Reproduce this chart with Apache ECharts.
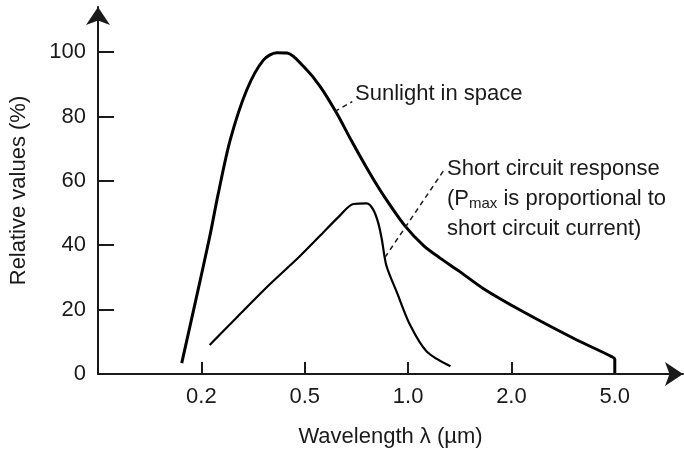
<!DOCTYPE html>
<html>
<head>
<meta charset="utf-8">
<script src="https://cdn.jsdelivr.net/npm/echarts@6/dist/echarts.min.js"></script>
<style>
  html, body { margin: 0; padding: 0; background: #fff; }
  #chart { width: 684px; height: 453px; }
</style>
</head>
<body>
<div id="chart"></div>
<script>
// x positions are tick slots: 1 = 0.2 um, 2 = 0.5, 3 = 1.0, 4 = 2.0, 5 = 5.0
const xTickPos = [1, 2, 3, 4, 5]
const xTickLabels = ['0.2', '0.5', '1.0', '2.0', '5.0']
const yTicks = [0, 20, 40, 60, 80, 100]

const sunlight = [
  [0.81, 3.4], [0.95, 23.5], [1.08, 42.5], [1.16, 55.5], [1.28, 72.8],
  [1.44, 88.3], [1.6, 97.5], [1.73, 99.8], [1.83, 99.7], [1.99, 95.5],
  [2.15, 89.3], [2.31, 81.0], [2.45, 72.6], [2.62, 62.9], [2.76, 55.6],
  [2.97, 46.0], [3.15, 39.9], [3.31, 36.0], [3.5, 31.8], [3.73, 26.5],
  [4.11, 19.4], [4.6, 11.1], [4.97, 5.4], [5.0, 4.6], [5.0, 0.3]
]

const shortCircuit = [
  [1.08, 9.0], [1.34, 17.5], [1.66, 27.8], [1.95, 36.5], [2.15, 43],
  [2.34, 49.2], [2.47, 52.8], [2.6, 53.0], [2.66, 51.2], [2.71, 47.1],
  [2.745, 42], [2.79, 33.7], [2.89, 25.5], [3.02, 15.2], [3.18, 7.0],
  [3.41, 2.4]
]

// dashed leader lines, in data coordinates
const sunLeader = [[2.29, 81.5], [2.46, 84.6]]
const scLeader = [[3.34, 63], [2.78, 36.4]]

const font = 'Liberation Sans, Arial, Helvetica, sans-serif'
const ink = '#1a1a1a'

const myChart = echarts.init(document.getElementById('chart'))

const option = {
  animation: false,
  grid: { left: 98, right: 1, top: 7, bottom: 77 },
  xAxis: {
    type: 'value',
    min: 0,
    max: 5.66,
    name: 'Wavelength λ (µm)',
    nameLocation: 'middle',
    nameGap: 52,
    nameTextStyle: { color: ink, fontSize: 22, fontFamily: font },
    splitLine: { show: false },
    axisLine: {
      show: true,
      lineStyle: { color: ink, width: 2 },
      symbol: ['none', 'arrow'],
      symbolSize: [18, 18]
    },
    axisTick: {
      show: true,
      inside: true,
      length: 12,
      customValues: xTickPos,
      lineStyle: { color: ink, width: 2 }
    },
    axisLabel: {
      customValues: xTickPos,
      margin: 12,
      color: ink,
      fontSize: 22,
      fontFamily: font,
      formatter: v => xTickLabels[xTickPos.indexOf(v)]
    }
  },
  yAxis: {
    type: 'value',
    min: 0,
    max: 114,
    name: 'Relative values (%)',
    nameLocation: 'middle',
    nameGap: 68,
    nameRotate: 90,
    nameTextStyle: { color: ink, fontSize: 22, fontFamily: font },
    splitLine: { show: false },
    axisLine: {
      show: true,
      lineStyle: { color: ink, width: 2 },
      symbol: ['none', 'arrow'],
      symbolSize: [18, 18]
    },
    axisTick: {
      show: true,
      inside: true,
      length: 16,
      customValues: yTicks,
      lineStyle: { color: ink, width: 2 }
    },
    axisLabel: {
      customValues: yTicks,
      margin: 12,
      color: ink,
      fontSize: 22,
      fontFamily: font
    }
  },
  graphic: [
    {
      type: 'text',
      left: 355,
      top: 83,
      style: { text: 'Sunlight in space', fill: ink, font: '22px ' + font }
    },
    {
      type: 'text',
      left: 447,
      top: 154,
      style: {
        text: 'Short circuit response\n(P{sub|max} is proportional to\nshort circuit current)',
        fill: ink,
        font: '22px ' + font,
        lineHeight: 30,
        rich: {
          sub: { fontSize: 15, fontFamily: font, fill: ink, padding: [10, 0, 0, 0] }
        }
      }
    }
  ],
  series: [
    {
      name: 'Sunlight in space',
      type: 'line',
      data: sunlight,
      symbol: 'none',
      smooth: 0.3,
      lineStyle: { color: '#000', width: 3 },
      markLine: {
        silent: true,
        symbol: 'none',
        label: { show: false },
        lineStyle: { color: ink, width: 1.5, type: [5, 4] },
        data: [[{ coord: sunLeader[0] }, { coord: sunLeader[1] }]]
      }
    },
    {
      name: 'Short circuit response',
      type: 'line',
      data: shortCircuit,
      symbol: 'none',
      smooth: 0.3,
      lineStyle: { color: '#000', width: 2.2 },
      markLine: {
        silent: true,
        symbol: 'none',
        label: { show: false },
        lineStyle: { color: ink, width: 1.5, type: [5, 4] },
        data: [[{ coord: scLeader[0] }, { coord: scLeader[1] }]]
      }
    }
  ]
}
myChart.setOption(option)
</script>
</body>
</html>
